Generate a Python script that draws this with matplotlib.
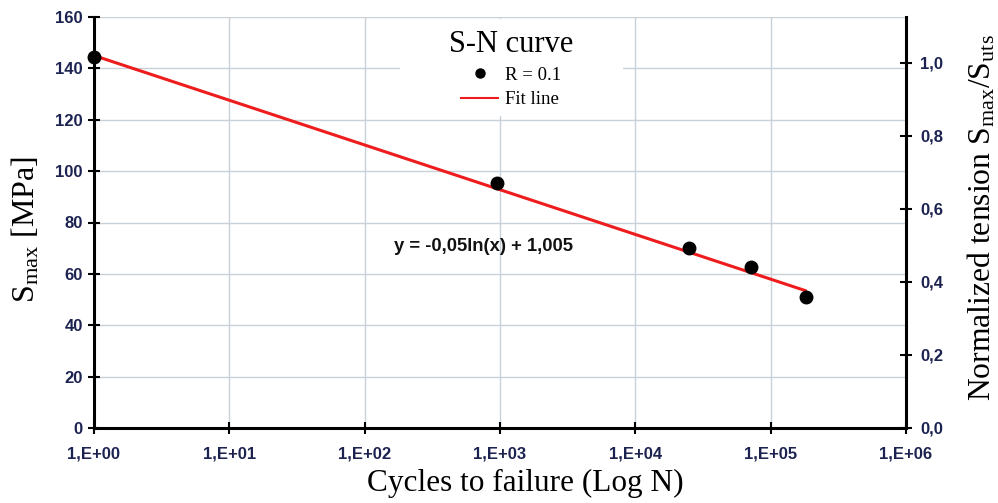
import matplotlib
matplotlib.use("Agg")
import matplotlib.pyplot as plt
from matplotlib.lines import Line2D
from matplotlib.patches import Rectangle
from matplotlib.ticker import FixedLocator, FuncFormatter

plt.rcParams['mathtext.fontset'] = 'custom'
plt.rcParams['mathtext.rm'] = 'Liberation Serif'
plt.rcParams['mathtext.it'] = 'Liberation Serif:italic'

# Data
cycles = [1, 950, 25000, 72000, 183000]
smax = [144.5, 95.3, 70.0, 62.5, 51.0]
fit_cycles = [1, 180000]
fit_smax = [145.0, 53.5]
x_ticks = [1e0, 1e1, 1e2, 1e3, 1e4, 1e5, 1e6]
x_tick_labels = ["1,E+00", "1,E+01", "1,E+02", "1,E+03", "1,E+04", "1,E+05", "1,E+06"]
y_ticks = [0, 20, 40, 60, 80, 100, 120, 140, 160]
y2_ticks = [0.0, 0.2, 0.4, 0.6, 0.8, 1.0]
equation = "y = -0,05ln(x) + 1,005"

tick_color = '#1c2350'
grid_color = '#c8d0d8'
W, H = 998, 503
L, R, T, B = 94, 906, 17, 428

fig = plt.figure(figsize=(W/100, H/100), dpi=100)
ax = fig.add_axes([L/W, 1-B/H, (R-L)/W, (B-T)/H])

ax.set_xscale('log')
ax.set_xlim(1, 1e6)
ax.set_ylim(0, 160)
ax.plot(fit_cycles, fit_smax, color='#ee1c1c', lw=2.2, zorder=3)
ax.plot(cycles, smax, 'o', color='black', ms=9, zorder=4, clip_on=False)

ax.xaxis.set_major_locator(FixedLocator(x_ticks))
ax.set_xticklabels(x_tick_labels)
ax.xaxis.set_minor_locator(FixedLocator([]))
ax.set_yticks(y_ticks)
ax.grid(True, color=grid_color, lw=1.0, zorder=0)
ax.set_axisbelow(True)

for lab in ax.get_xticklabels() + ax.get_yticklabels():
    lab.set_fontfamily('Liberation Sans')
    lab.set_fontweight('bold')
    lab.set_fontsize(12)

ax.tick_params(axis='both', direction='inout', length=8, width=1.5, colors='black',
               labelcolor=tick_color)
ax.tick_params(axis='x', pad=9)
ax.tick_params(axis='y', pad=4)

ax.spines['top'].set_visible(False)
ax.spines['right'].set_visible(False)
ax.spines['left'].set_linewidth(2.2)
ax.spines['bottom'].set_linewidth(2.2)

ax.set_xlabel('Cycles to failure (Log N)', fontfamily='Liberation Serif', fontsize=22.5)
ax.xaxis.set_label_coords((525 - L)/(R - L), (B - 469)/(B - T))
ax.set_ylabel(r'S$_{\rm max}$ [MPa]', fontfamily='Liberation Serif', fontsize=23)
ax.yaxis.set_label_coords((42 - L)/(R - L), (B - 230)/(B - T))

ax.text(750, 70.5, equation, fontfamily='Liberation Sans', fontweight='bold', fontsize=13.2,
        ha='center', va='center', color='#111111')

ax2 = ax.twinx()
ax2.set_ylim(0, 160/142.2)
ax2.set_yticks(y2_ticks)
ax2.yaxis.set_major_formatter(FuncFormatter(lambda v, p: f"{v:.1f}".replace('.', ',')))
for lab in ax2.get_yticklabels():
    lab.set_fontfamily('Liberation Sans')
    lab.set_fontweight('bold')
    lab.set_fontsize(12)
ax2.tick_params(axis='y', direction='inout', length=8, width=1.5, colors='black',
                labelcolor=tick_color, pad=6)
ax2.spines['top'].set_visible(False)
ax2.spines['left'].set_visible(False)
ax2.spines['bottom'].set_visible(False)
ax2.spines['right'].set_linewidth(2.2)
ax2.set_ylabel(r'Normalized tension S$_{\rm max}$/S$_{\rm uts}$', fontfamily='Liberation Serif',
               fontsize=22.8)
ax2.yaxis.set_label_coords((966 - L)/(R - L), (B - 218)/(B - T))

# white legend background box
ax2.add_patch(Rectangle(((400 - L)/(R - L), (B - 116)/(B - T)), (623 - 400)/(R - L),
                        (116 - T - 2)/(B - T), transform=ax2.transAxes, facecolor='white',
                        edgecolor='none', zorder=5))

handles = [Line2D([], [], marker='o', ls='none', color='black', ms=6.5),
           Line2D([], [], color='#ee1c1c', lw=1.5)]
leg = ax2.legend(handles, ['R = 0.1', 'Fit line'], title='S-N curve', loc='upper center',
                 bbox_to_anchor=((511 - L)/(R - L), 1.005), frameon=False,
                 prop={'family': 'Liberation Serif', 'size': 13.5},
                 handlelength=2.0, handletextpad=0.35, borderpad=0.3, labelspacing=0.4)
leg.get_title().set_fontfamily('Liberation Serif')
leg.get_title().set_fontsize(22)
leg.set_zorder(10)

fig.savefig('out.png', dpi=100)
